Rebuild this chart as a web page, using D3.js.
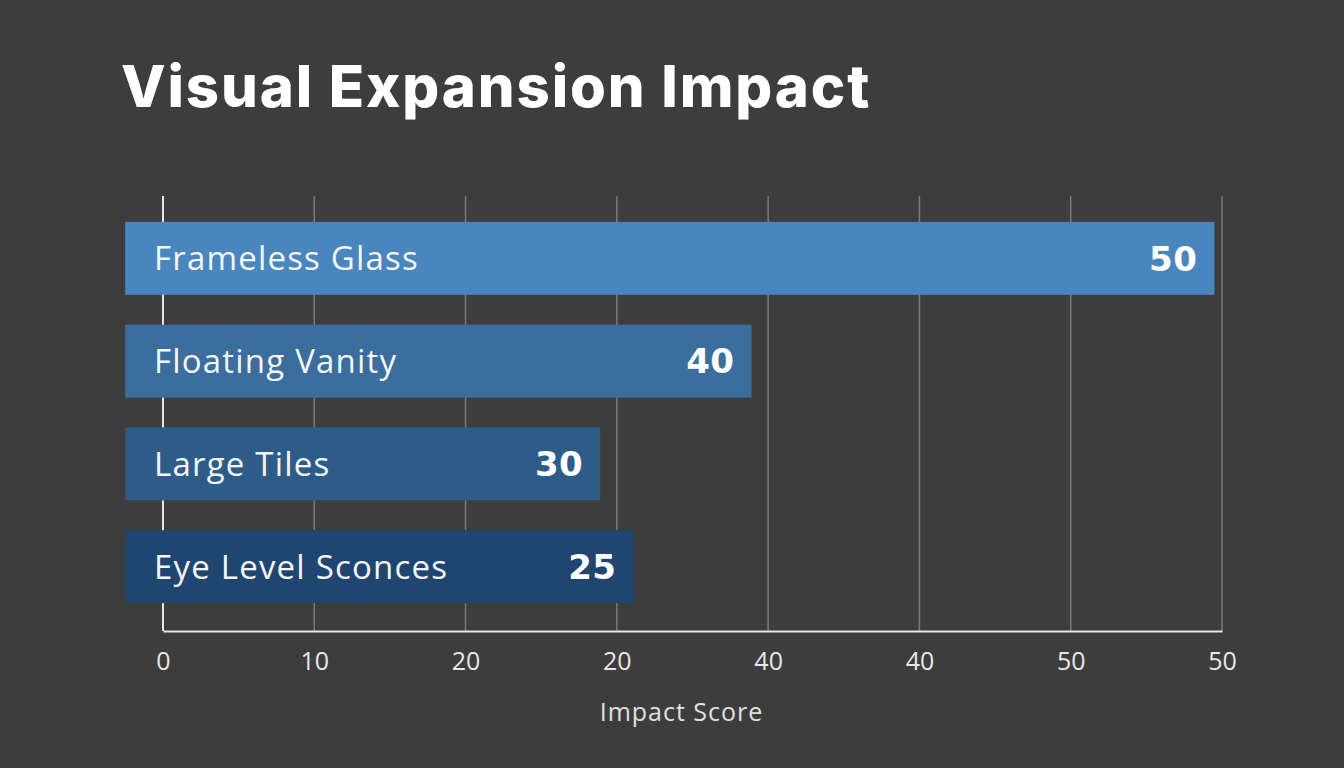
<!DOCTYPE html>
<html>
<head>
<meta charset="utf-8">
<script src="https://cdn.jsdelivr.net/npm/d3@7"></script>
<style>
  body { margin: 0; background: #3d3d3d; }
  svg { display: block; }
  text { font-family: "Open Sans", Lato, sans-serif; }
</style>
</head>
<body>
<div id="chart"></div>
<script>
// data
var categories = ["Frameless Glass", "Floating Vanity", "Large Tiles", "Eye Level Sconces"];
var scores = [50, 40, 30, 25];
// where each bar ends on the axis (axis positions, not the printed score)
var barEnds = [69.5, 38.9, 28.9, 31.1];
var barColors = ["#4a86be", "#3b6d9e", "#2e5c89", "#1f4670"];
var tickValues = [0, 10, 20, 30, 40, 50, 60, 70];
var tickLabels = ["0", "10", "20", "20", "40", "40", "50", "50"];

var width = 1344, height = 768;
var margin = {top: 196, right: 122, bottom: 137, left: 163};

var svg = d3.select("#chart").append("svg")
    .attr("width", width)
    .attr("height", height);

svg.append("rect")
    .attr("width", width)
    .attr("height", height)
    .attr("fill", "#3d3d3d");

var x = d3.scaleLinear()
    .domain([0, 70])
    .range([margin.left, width - margin.right]);

var y = d3.scaleBand()
    .domain(categories)
    .range([207, 618])
    .paddingInner(0.29)
    .paddingOuter(0.145);

var axisY = height - margin.bottom;

// title
svg.append("text")
    .attr("x", 121)
    .attr("y", 107)
    .attr("fill", "#ffffff")
    .style("font-family", "Inter, Lato, sans-serif")
    .style("font-weight", 800)
    .style("font-size", "58px")
    .style("letter-spacing", "1.9px")
    .text("Visual Expansion Impact");

// vertical gridlines
svg.append("g")
    .selectAll("line")
    .data(tickValues.slice(1))
    .enter().append("line")
    .attr("x1", function(d) { return x(d); })
    .attr("x2", function(d) { return x(d); })
    .attr("y1", margin.top)
    .attr("y2", axisY)
    .attr("stroke", "#7a7a7a")
    .attr("stroke-width", 1.5);

// left axis line
svg.append("line")
    .attr("x1", x(0)).attr("x2", x(0))
    .attr("y1", margin.top).attr("y2", axisY)
    .attr("stroke", "#e6e6e6")
    .attr("stroke-width", 2);

// bottom axis
var xAxis = svg.append("g")
    .attr("transform", "translate(0," + axisY + ")")
    .call(d3.axisBottom(x)
        .tickValues(tickValues)
        .tickSize(0)
        .tickPadding(21)
        .tickFormat(function(d, i) { return tickLabels[i]; }));

xAxis.select(".domain")
    .attr("stroke", "#e6e6e6")
    .attr("stroke-width", 2);

xAxis.selectAll("text")
    .attr("fill", "#e8e8e8")
    .style("font-family", "'Open Sans', sans-serif")
    .style("font-size", "25px");

svg.append("text")
    .attr("x", (x(0) + x(70)) / 2 - 11)
    .attr("y", 721)
    .attr("text-anchor", "middle")
    .attr("fill", "#e0e0e0")
    .style("font-size", "25px")
    .style("letter-spacing", "1px")
    .text("Impact Score");

// bars, drawn over the grid
var bars = svg.append("g")
    .selectAll("g")
    .data(categories)
    .enter().append("g");

bars.append("rect")
    .attr("x", x(-2.5))
    .attr("y", function(d) { return y(d); })
    .attr("width", function(d, i) { return x(barEnds[i]) - x(-2.5); })
    .attr("height", y.bandwidth())
    .attr("fill", function(d, i) { return barColors[i]; });

bars.append("text")
    .attr("x", 154)
    .attr("y", function(d) { return y(d) + y.bandwidth() / 2; })
    .attr("dy", "0.36em")
    .attr("fill", "#f4f6f8")
    .style("font-size", "33px")
    .style("letter-spacing", "1.2px")
    .text(function(d) { return d; });

bars.append("text")
    .attr("x", function(d, i) { return x(barEnds[i]) - 17; })
    .attr("y", function(d) { return y(d) + y.bandwidth() / 2; })
    .attr("dy", "0.36em")
    .attr("text-anchor", "end")
    .attr("fill", "#ffffff")
    .style("font-family", "'DejaVu Sans', sans-serif")
    .style("font-weight", 700)
    .style("font-size", "34px")
    .style("letter-spacing", "0.5px")
    .text(function(d, i) { return scores[i]; });
</script>
</body>
</html>
